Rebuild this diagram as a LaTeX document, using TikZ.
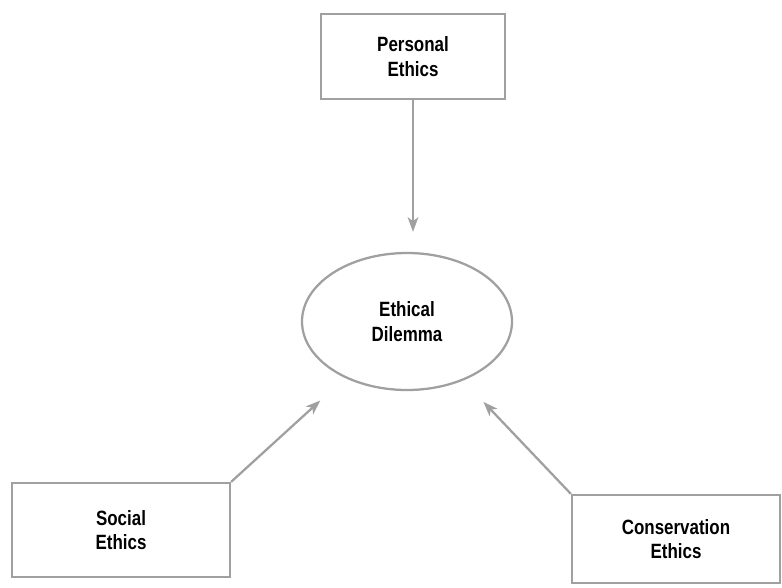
\documentclass[tikz,border=0pt]{standalone}
\usepackage{fontspec}
\setmainfont{Liberation Sans}[FakeStretch=0.82]
\usetikzlibrary{arrows.meta,shapes.geometric}
\definecolor{edgegray}{RGB}{160,160,160}
\begin{document}
\begin{tikzpicture}[x=0.75pt,y=-0.75pt,
  box/.style={draw=edgegray, line width=1.7pt, rectangle, align=center,
    font=\bfseries\fontsize{15.5}{18.5}\selectfont, text=black, inner sep=0pt},
  oval/.style={draw=edgegray, line width=1.7pt, ellipse, align=center,
    font=\bfseries\fontsize{15.5}{18.5}\selectfont, text=black, inner sep=0pt},
  link/.style={draw=edgegray, line width=1.7pt,
    -{Stealth[length=11pt,width=8pt,inset=3pt]}}]
\useasboundingbox (0,0) rectangle (782,587);
\node[box, minimum width=138pt, minimum height=63.75pt] (personal) at (413,56.5) {Personal\\Ethics};
\node[oval, minimum width=157.5pt, minimum height=102.75pt] (dilemma) at (407,321.5) {Ethical\\Dilemma};
\node[box, minimum width=163.5pt, minimum height=70.5pt] (social) at (121,530) {Social\\Ethics};
\node[box, minimum width=156pt, minimum height=66pt] (conserv) at (676,539) {Conservation\\Ethics};
\draw[link, shorten >=15pt] (personal.south) -- (personal.south |- dilemma.north);
\draw[link, shorten >=25pt] (social.north east) -- (dilemma);
\draw[link, shorten >=22pt] (conserv.north west) -- (dilemma);
\end{tikzpicture}
\end{document}
